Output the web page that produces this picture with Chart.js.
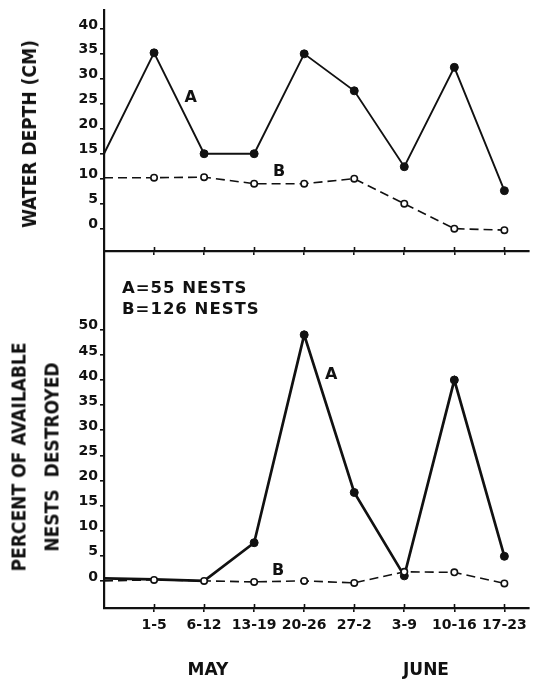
<!DOCTYPE html>
<html>
<head>
<meta charset="utf-8">
<script src="https://cdn.jsdelivr.net/npm/chart.js@4.4.0/dist/chart.umd.min.js"></script>
<style>
  html, body { margin: 0; padding: 0; background: #fff; }
  #wrap { position: relative; width: 534px; height: 680px; overflow: hidden; }
  canvas { position: absolute; left: 0; }
  #topChart { top: 0; }
  #bottomChart { top: 240px; }
  .txt { position: absolute; font-family: "DejaVu Sans", sans-serif; font-weight: bold; color: #111; white-space: pre; }
  .ytitle { font-family: "DejaVu Sans Condensed", "DejaVu Sans", sans-serif; font-stretch: condensed;
            font-size: 19px; text-align: center; transform: translate(-50%, -50%) rotate(-90deg); }
  .month { font-size: 17px; line-height: 18px; transform: translateX(-50%); }
</style>
</head>
<body>
<div id="wrap">
  <canvas id="topChart" width="534" height="262"></canvas>
  <canvas id="bottomChart" width="534" height="440"></canvas>
  <div class="txt ytitle" style="left:29px; top:134px; line-height:20px;">WATER DEPTH (CM)</div>
  <div class="txt ytitle" style="left:35px; top:457px; line-height:32.5px;">PERCENT OF AVAILABLE
NESTS  DESTROYED</div>
  <div class="txt" style="left:122px; top:277px; font-size:16.5px; line-height:21px; letter-spacing:1px;">A=55 NESTS
B=126 NESTS</div>
  <div class="txt month" style="left:208px; top:660px;">MAY</div>
  <div class="txt month" style="left:426px; top:660px;">JUNE</div>
</div>

<script>
// semanas (el índice 0 es el arranque, sobre el eje vertical)
const weeks = ["", "1-5", "6-12", "13-19", "20-26", "27-2", "3-9", "10-16", "17-23"];

// profundidad del agua (cm)
const depthA = [15, 35.2, 15, 15, 35, 27.6, 12.4, 32.3, 7.6];
const depthB = [10.2, 10.2, 10.3, 9, 9, 10, 5, 0, -0.3];

// porcentaje de nidos destruidos
const lossA = [0.5, 0.3, 0, 7.6, 49, 17.6, 1, 40, 4.9];
const lossB = [0, 0.2, 0, -0.2, 0, -0.4, 1.8, 1.7, -0.5];

const depthTicks = [0, 5, 10, 15, 20, 25, 30, 35, 40];
const lossTicks = [0, 5, 10, 15, 20, 25, 30, 35, 40, 45, 50];

const INK = "#111";
const tickFont = { family: "DejaVu Sans", size: 14, weight: "bold" };

function toPoints(arr) {
    return arr.map((v, i) => ({ x: i, y: v }));
}

// Eje x común a las dos gráficas
function xScale(showLabels, height) {
    return {
        type: "linear",
        min: 0,
        max: 8.48,
        afterBuildTicks: (s) => {
            s.ticks = weeks.map((w, i) => ({ value: i })).filter((t) => t.value > 0);
        },
        afterFit: (s) => { s.height = height; },
        border: { display: true, color: INK, width: 2.2 },
        grid: { drawOnChartArea: false, tickLength: 4, color: INK, lineWidth: 1.6 },
        ticks: {
            display: showLabels,
            autoSkip: false,
            maxRotation: 0,
            padding: 5,
            color: INK,
            font: tickFont,
            callback: (v) => weeks[v]
        }
    };
}

function yScale(min, max, tickVals) {
    return {
        min: min,
        max: max,
        afterBuildTicks: (s) => { s.ticks = tickVals.map((v) => ({ value: v })); },
        afterFit: (s) => { s.width = 104; },
        border: { display: true, color: INK, width: 2.2 },
        grid: { drawOnChartArea: false, tickLength: 4, color: INK, lineWidth: 1.6 },
        ticks: { autoSkip: false, padding: 2, labelOffset: -4, color: INK, font: tickFont }
    };
}

// marcas cortas del eje x hacia dentro del área
const innerTicks = {
    id: "innerTicks",
    afterDatasetsDraw(chart) {
        const x = chart.scales.x, ctx = chart.ctx, y0 = chart.chartArea.bottom;
        ctx.save();
        ctx.strokeStyle = INK;
        ctx.lineWidth = 1.6;
        x.ticks.forEach((t, i) => {
            const px = Math.round(x.getPixelForTick(i)) + 0.5;
            ctx.beginPath();
            ctx.moveTo(px, y0);
            ctx.lineTo(px, y0 - 4);
            ctx.stroke();
        });
        ctx.restore();
    }
};

// letras A / B junto a las líneas
const lineLabels = {
    id: "lineLabels",
    afterDatasetsDraw(chart, args, opts) {
        const ctx = chart.ctx;
        ctx.save();
        ctx.fillStyle = INK;
        ctx.font = "bold 16px 'DejaVu Sans'";
        ctx.textAlign = "center";
        ctx.textBaseline = "middle";
        opts.items.forEach((it) => {
            ctx.fillText(it.text, chart.scales.x.getPixelForValue(it.x), chart.scales.y.getPixelForValue(it.y));
        });
        ctx.restore();
    }
};

function seriesB(values) {
    return {
        data: toPoints(values),
        borderColor: INK,
        borderWidth: 1.6,
        borderDash: [9, 5],
        pointRadius: (c) => (c.dataIndex === 0 ? 0 : 3.2),
        pointBorderWidth: 1.6,
        pointBackgroundColor: "#fff",
        pointBorderColor: INK,
        tension: 0,
        clip: false
    };
}

function seriesA(values, width, radius) {
    return {
        data: toPoints(values),
        borderColor: INK,
        borderWidth: width,
        pointRadius: radius,
        pointBorderWidth: 1,
        pointBackgroundColor: INK,
        pointBorderColor: INK,
        tension: 0,
        clip: false
    };
}

const commonOpts = {
    responsive: false,
    animation: false,
    events: [],
    plugins: { legend: { display: false }, tooltip: { enabled: false } }
};

// Gráfica superior: profundidad del agua
new Chart(document.getElementById("topChart").getContext("2d"), {
    type: "line",
    data: {
        datasets: [
            seriesB(depthB),
            seriesA(depthA, 1.9, (c) => (c.dataIndex === 0 ? 0 : 4))
        ]
    },
    options: Object.assign({}, commonOpts, {
        layout: { padding: { top: 7, right: 4, left: 0, bottom: 0 } },
        scales: {
            x: xScale(false, 11),
            y: yScale(-4.48, 43.7, depthTicks)
        },
        plugins: Object.assign({}, commonOpts.plugins, {
            lineLabels: { items: [{ text: "A", x: 1.73, y: 26.1 }, { text: "B", x: 3.5, y: 11.3 }] }
        })
    }),
    plugins: [innerTicks, lineLabels]
});

// Gráfica inferior: nidos destruidos
new Chart(document.getElementById("bottomChart").getContext("2d"), {
    type: "line",
    data: {
        datasets: [
            seriesB(lossB),
            seriesA(lossA, 2.7, (c) => (c.dataIndex < 3 ? 0 : 4))
        ]
    },
    options: Object.assign({}, commonOpts, {
        layout: { padding: { top: 11, right: 4, left: 0, bottom: 0 } },
        scales: {
            x: xScale(true, 72),
            y: yScale(-5.4, 65.7, lossTicks)
        },
        plugins: Object.assign({}, commonOpts.plugins, {
            lineLabels: { items: [{ text: "A", x: 4.54, y: 41 }, { text: "B", x: 3.48, y: 2 }] }
        })
    }),
    plugins: [innerTicks, lineLabels]
});
</script>
</body>
</html>
